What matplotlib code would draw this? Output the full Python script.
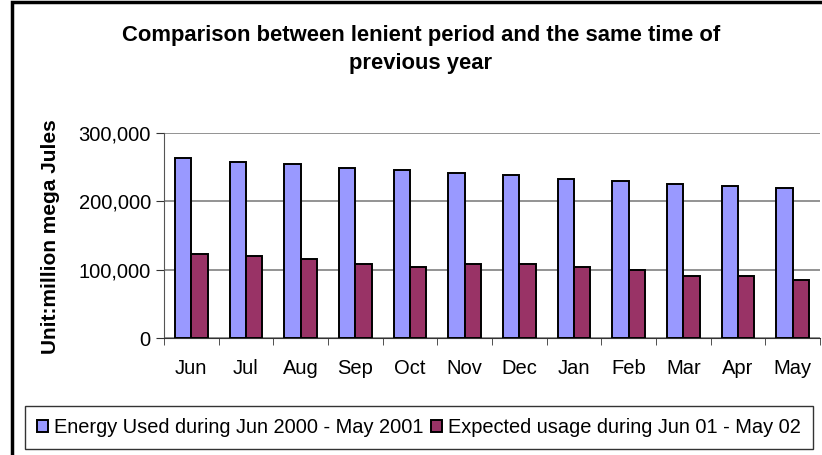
"""Energy use: lenient period vs same time previous year."""
import numpy as np
import matplotlib.pyplot as plt
from matplotlib.patches import Rectangle
from matplotlib.ticker import FuncFormatter, FixedLocator

plt.rcParams['font.family'] = ['Liberation Sans', 'DejaVu Sans']

months = ["Jun", "Jul", "Aug", "Sep", "Oct", "Nov", "Dec", "Jan", "Feb", "Mar", "Apr", "May"]
used_2000_01 = [263000, 258000, 255000, 249000, 246000, 241000, 239000, 233000, 230000, 225000, 222000, 219000]
expected_01_02 = [123000, 120000, 115000, 109000, 104000, 109000, 109000, 104000, 99000, 90500, 90500, 85000]
labels = ["Energy Used during Jun 2000 - May 2001", "Expected usage during Jun 01 - May 02"]

fig = plt.figure(figsize=(8.22, 4.55), dpi=100)
ax = fig.add_axes([0.1995, 0.2571, 0.798, 0.4506])

x = np.arange(len(months))
w = 0.3
b1 = ax.bar(x - w / 2, used_2000_01, w, color="#9999FF", edgecolor="black", linewidth=1.4, label=labels[0], zorder=3)
b2 = ax.bar(x + w / 2, expected_01_02, w, color="#993366", edgecolor="black", linewidth=1.4, label=labels[1], zorder=3)

ax.set_xlim(-0.5, len(months) - 0.5)
ax.set_ylim(0, 300000)
ax.set_yticks([0, 100000, 200000, 300000])
ax.yaxis.set_major_formatter(FuncFormatter(lambda v, _: f"{int(v):,}"))
ax.grid(axis="y", color="#808080", linewidth=1.2, zorder=0)

ax.set_xticks(x)
ax.set_xticklabels(months)
ax.xaxis.set_minor_locator(FixedLocator(np.arange(-0.5, len(months), 1)))
ax.tick_params(axis="x", which="major", length=0, pad=15, labelsize=14.5)
ax.tick_params(axis="x", which="minor", length=5, color="#333333")
ax.tick_params(axis="y", length=6, pad=3.5, labelsize=14.5, color="#333333")

for side in ["top", "right"]:
    ax.spines[side].set_visible(False)
ax.spines["left"].set_color("#555555")
ax.spines["bottom"].set_color("#333333")

fig.text(51 / 822, 1 - 237 / 455, "Unit:million mega Jules", rotation=90,
         ha="center", va="center", fontsize=15, fontweight="bold")

fig.text(0.512, 0.891, "Comparison between lenient period and the same time of\nprevious year",
         ha="center", va="center", fontsize=15.8, fontweight="bold", linespacing=1.45)

leg = fig.legend(handles=[b1, b2], labels=labels, loc="lower left", bbox_to_anchor=(0.03, 0.014),
                 ncol=2, frameon=True, fancybox=False, fontsize=14.4, handlelength=0.55,
                 handleheight=0.55, handletextpad=0.3, columnspacing=0.4, borderpad=0.6,
                 borderaxespad=0)
leg.get_frame().set_edgecolor("black")
leg.get_frame().set_linewidth(1.0)

# outer chart border
fig.patches.append(Rectangle((0.0146, -0.02), 1.2, 1.015, transform=fig.transFigure,
                             fill=False, edgecolor="black", linewidth=2.5))

plt.savefig("out.png", dpi=100)
plt.close()
